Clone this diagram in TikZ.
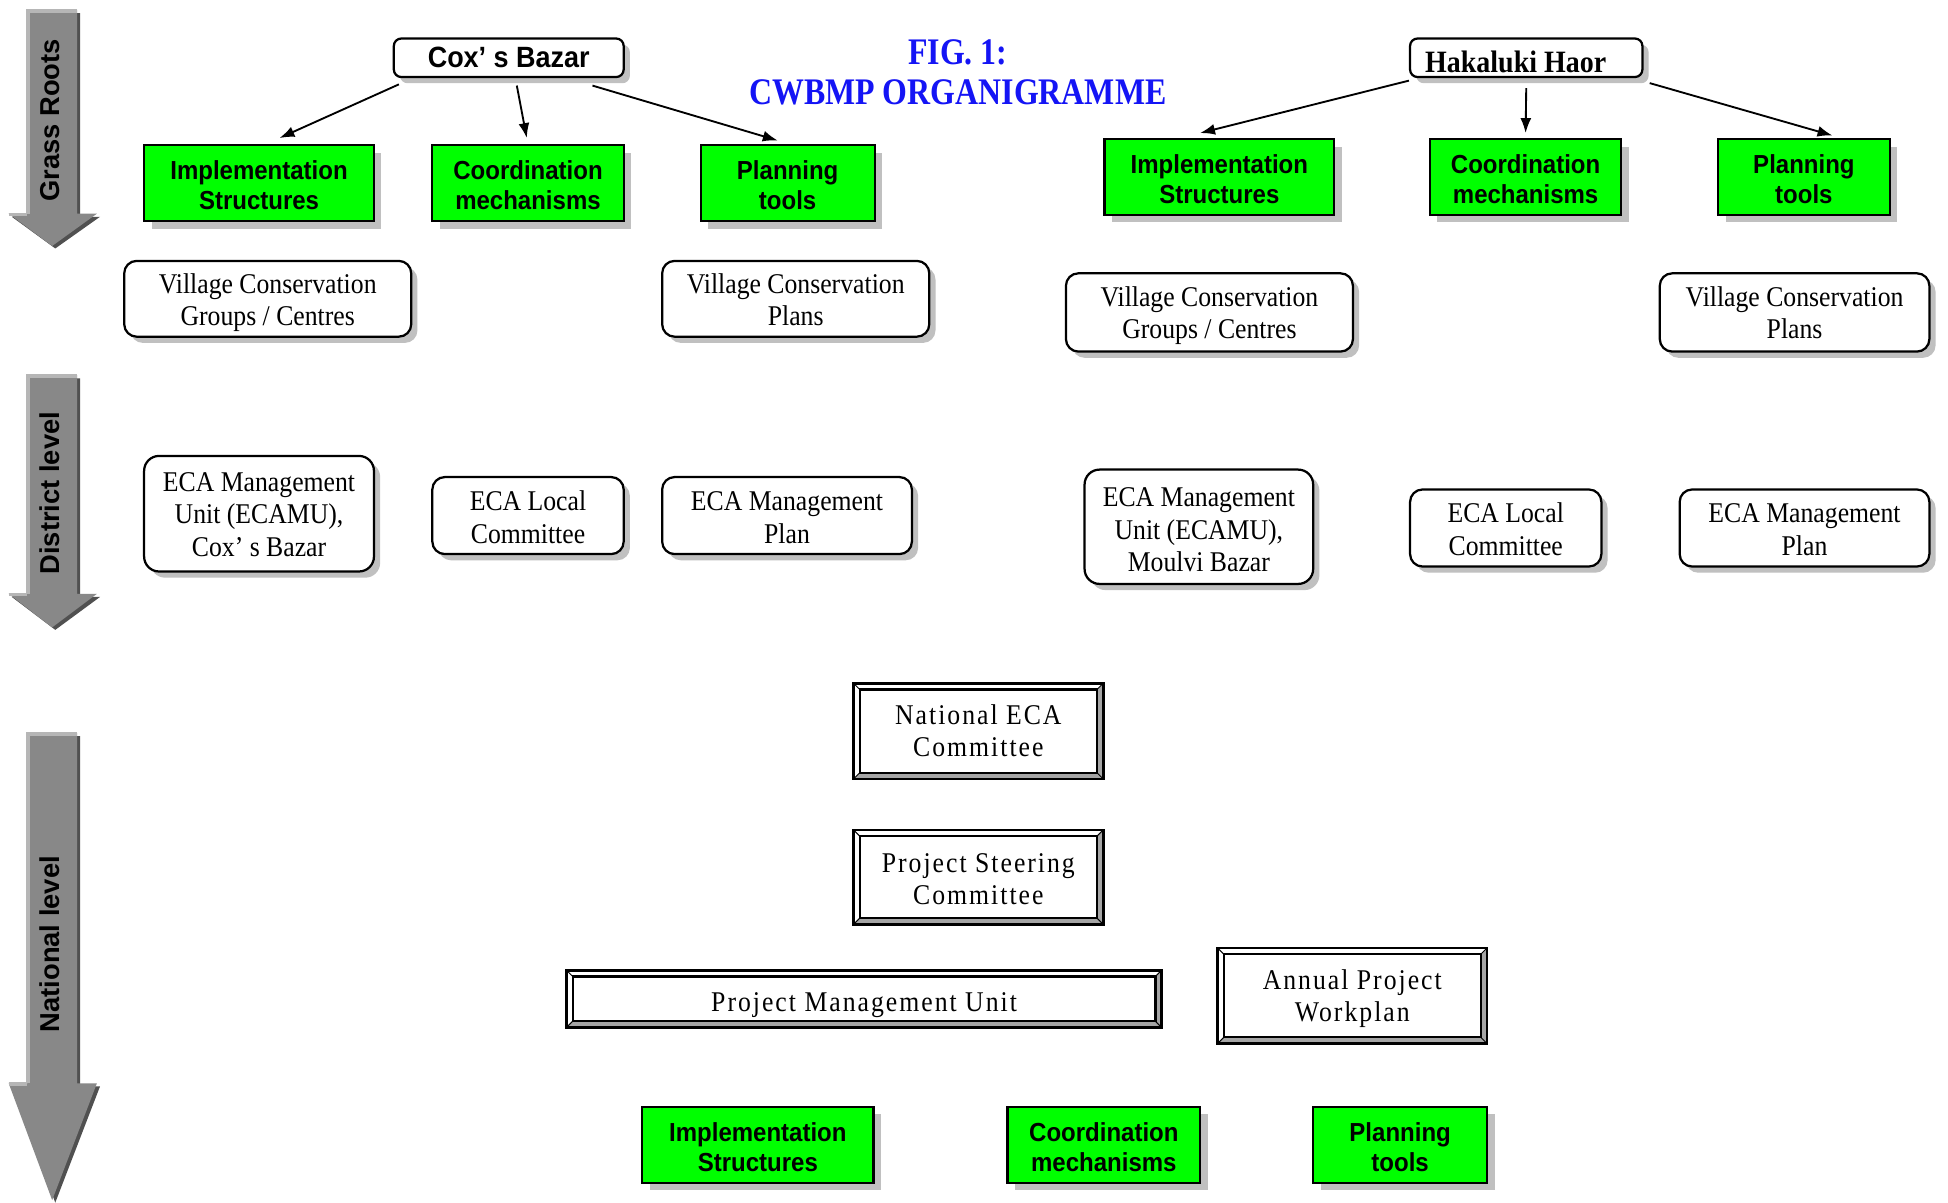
\documentclass[tikz,border=0pt]{standalone}
\usepackage{fontspec}
\setmainfont{Liberation Serif}
\setsansfont{Liberation Sans}
\newfontfamily\serifc[FakeStretch=0.9]{Liberation Serif}
\newfontfamily\serifls[FakeStretch=0.9,LetterSpace=7]{Liberation Serif}
\newfontfamily\sansc[FakeStretch=0.92]{Liberation Sans}
\newfontfamily\sansn{Liberation Sans}
\newfontfamily\titlef[FakeStretch=0.85]{Liberation Serif}
\usetikzlibrary{arrows.meta,shadows,calc}
\definecolor{vgreen}{RGB}{0,255,0}
\definecolor{shadowgray}{RGB}{192,192,192}
\definecolor{bevelgray}{RGB}{165,165,165}
\definecolor{titleblue}{RGB}{20,20,245}
\definecolor{arrowmid}{RGB}{136,136,136}
\definecolor{arrowdark}{RGB}{80,80,80}
\definecolor{arrowlight}{RGB}{182,182,182}
\newcommand{\bvw}{2.5pt}
% text block lowered inside its node, box size unchanged
\newcommand{\tx}[2][2.2pt]{\raisebox{-#1}[\height][\depth]{\begin{tabular}{@{}c@{}}#2\end{tabular}}}
\newcommand{\lvlarrow}[3]{%
  \fill[arrowdark] (24.5,#1+2.5) -- (64.5,#1+2.5) -- (64.5,#2+2.5) -- (80.5,#2+2.5) -- (44.5,#3+2) -- (9.5,#2+2.5) -- (24.5,#2+2.5) -- cycle;
  \fill[arrowmid] (22,#1) -- (62,#1) -- (62,#2) -- (78,#2) -- (42,#3) -- (7,#2) -- (22,#2) -- cycle;
  \draw[arrowlight, line width=1.4pt] (22.7,#2) -- (22.7,#1+0.7) -- (62,#1+0.7);
  \draw[arrowlight, line width=1.4pt] (7,#2+0.7) -- (22,#2+0.7);
}
\tikzset{
  gbox/.style={draw=black, line width=0.9pt, fill=vgreen, inner sep=0pt,
    font=\sansc\bfseries\fontsize{10.5}{12}\selectfont,
    drop shadow={shadow xshift=3pt, shadow yshift=-3pt, fill=shadowgray, opacity=1}},
  wbox/.style={draw=black, line width=0.9pt, fill=white, rounded corners=5pt, inner sep=0pt,
    font=\serifc\fontsize{11.5}{13}\selectfont,
    drop shadow={shadow xshift=2.5pt, shadow yshift=-2.5pt, fill=shadowgray, opacity=1}},
  headbox/.style={draw=black, line width=0.9pt, fill=white, rounded corners=3pt, inner sep=0pt,
    drop shadow={shadow xshift=2.5pt, shadow yshift=-2.5pt, fill=shadowgray, opacity=1}},
  bevel/.style={draw=black, line width=1.1pt, fill=bevelgray, inner sep=0pt,
    font=\serifls\fontsize{11.5}{13}\selectfont,
    path picture={
      \fill[white] (path picture bounding box.north west) -- (path picture bounding box.north east)
        -- ([xshift=-\bvw,yshift=-\bvw]path picture bounding box.north east)
        -- ([xshift=\bvw,yshift=-\bvw]path picture bounding box.north west)
        -- ([xshift=\bvw,yshift=\bvw]path picture bounding box.south west)
        -- (path picture bounding box.south west) -- cycle;
      \draw[line width=0.4pt] (path picture bounding box.north west) -- ([xshift=\bvw,yshift=-\bvw]path picture bounding box.north west);
      \draw[line width=0.4pt] (path picture bounding box.north east) -- ([xshift=-\bvw,yshift=-\bvw]path picture bounding box.north east);
      \draw[line width=0.4pt] (path picture bounding box.south west) -- ([xshift=\bvw,yshift=\bvw]path picture bounding box.south west);
      \draw[line width=0.4pt] (path picture bounding box.south east) -- ([xshift=-\bvw,yshift=\bvw]path picture bounding box.south east);
      \draw[line width=0.9pt, fill=white] ([xshift=\bvw,yshift=-\bvw]path picture bounding box.north west)
        rectangle ([xshift=-\bvw,yshift=\bvw]path picture bounding box.south east);
    }},
  arr/.style={-{Latex[length=6pt,width=4.4pt]}, line width=0.75pt},
  lvltext/.style={font=\sansn\bfseries\fontsize{11}{13}\selectfont, rotate=90, inner sep=0pt}
}
\begin{document}
\begin{tikzpicture}[x=0.5pt, y=-0.5pt]
\useasboundingbox (0,0) rectangle (1568,968);
\fill[white] (0,0) rectangle (1568,968);

% level arrows
\lvlarrow{8}{172}{198}
\lvlarrow{302}{478}{505}
\lvlarrow{590}{872}{966}
\node[lvltext] (lvlg) at (40,97) {Grass Roots};
\node[lvltext] (lvld) at (40,397) {District level};
\node[lvltext] (lvln) at (40,760) {National level};

% title
\node[font=\titlef\bfseries\fontsize{15.1}{16}\selectfont, text=titleblue, align=center, inner sep=0pt] (title) at (771,58) {FIG. 1:\\CWBMP ORGANIGRAMME};

% heads
\node[headbox, minimum width=92.5pt, minimum height=15.5pt, font=\sansc\bfseries\fontsize{11.8}{13}\selectfont] (cox) at (409.5,46.5) {Cox’ s Bazar};
\node[headbox, minimum width=93.5pt, minimum height=15.5pt, font=\serifc\bfseries\fontsize{12.5}{14}\selectfont] (hak) at (1228.5,46.5) {\raisebox{-1.6pt}[\height][\depth]{Hakaluki Haor}\kern8.5pt\rule{0pt}{0pt}};

% green row (left)
\node[gbox, minimum width=92.5pt, minimum height=30.5pt] (g1) at (208.5,147.5) {\tx{Implementation\\Structures}};
\node[gbox, minimum width=77pt, minimum height=30.5pt] (g2) at (425,147.5) {\tx{Coordination\\mechanisms}};
\node[gbox, minimum width=70pt, minimum height=30.5pt] (g3) at (634,147.5) {\tx{Planning\\tools}};
% green row (right)
\node[gbox, minimum width=92.5pt, minimum height=30.5pt] (g4) at (981.5,142.5) {\tx{Implementation\\Structures}};
\node[gbox, minimum width=77pt, minimum height=30.5pt] (g5) at (1228,142.5) {\tx{Coordination\\mechanisms}};
\node[gbox, minimum width=69pt, minimum height=30.5pt] (g6) at (1452,142.5) {\tx{Planning\\tools}};

% connectors
\draw[arr] ($(cox.south west)+(5,5)$) -- ($(g1.north)+(16.5,-5)$);
\draw[arr] ($(cox.south)+(6.5,6)$) -- ($(g2.north)+(-1,-5)$);
\draw[arr] ($(cox.south east)+(-26,6)$) -- ($(g3.north)+(-8,-3)$);
\draw[arr] ($(hak.south west)+(0,2)$) -- ($(g4.north)+(-15.5,-4)$);
\draw[arr] ($(hak.south)+(0,8)$) -- ($(g5.north)+(0,-4)$);
\draw[arr] ($(hak.south east)+(5,4)$) -- ($(g6.north)+(23,-2)$);

% white row
\node[wbox, minimum width=115.5pt, minimum height=30.5pt] (w1) at (215.5,240.5) {\tx[1.8pt]{Village Conservation\\Groups / Centres}};
\node[wbox, minimum width=107.5pt, minimum height=30.5pt] (w2) at (640.5,240.5) {\tx[1.8pt]{Village Conservation\\Plans}};
\node[wbox, minimum width=115.5pt, minimum height=31.5pt] (w3) at (973.5,251.5) {\tx[1.5pt]{Village Conservation\\Groups / Centres}};
\node[wbox, minimum width=108.5pt, minimum height=31.5pt] (w4) at (1444.5,251.5) {\tx[1.5pt]{Village Conservation\\Plans}};

% district row
\node[wbox, rounded corners=6pt, minimum width=92.5pt, minimum height=46.5pt] (d1) at (208.5,413.5) {\tx[1.5pt]{ECA Management\\Unit (ECAMU),\\Cox’ s Bazar}};
\node[wbox, minimum width=77pt, minimum height=31pt] (d2) at (425,415) {\tx[2pt]{ECA Local\\Committee}};
\node[wbox, minimum width=100.5pt, minimum height=31pt] (d3) at (633.5,415) {\tx[2pt]{ECA Management\\Plan}};
\node[wbox, rounded corners=6pt, minimum width=92pt, minimum height=46pt] (d4) at (965,424) {\tx[2.4pt]{ECA Management\\Unit (ECAMU),\\Moulvi Bazar}};
\node[wbox, minimum width=77pt, minimum height=31pt] (d5) at (1212,425) {\tx[1.8pt]{ECA Local\\Committee}};
\node[wbox, minimum width=100.5pt, minimum height=31pt] (d6) at (1452.5,425) {\tx[1.8pt]{ECA Management\\Plan}};

% national row
\node[bevel, minimum width=100.5pt, minimum height=38.5pt] (n1) at (787.5,588.5) {\tx[1.2pt]{National ECA\\Committee}};
\node[bevel, minimum width=100.5pt, minimum height=38pt] (n2) at (787.5,706) {\tx[1.9pt]{Project Steering\\Committee}};
\node[bevel, minimum width=239.5pt, minimum height=23pt] (n3) at (695.5,804) {\tx[2.3pt]{Project Management Unit}};
\node[bevel, minimum width=108.5pt, minimum height=38.5pt] (n4) at (1088.5,801.5) {\tx[1.3pt]{Annual Project\\Workplan}};

% bottom green row
\node[gbox, minimum width=93pt, minimum height=30.5pt] (g7) at (610,921.5) {\tx[2.4pt]{Implementation\\Structures}};
\node[gbox, minimum width=77.5pt, minimum height=30.5pt] (g8) at (888.5,921.5) {\tx[2.4pt]{Coordination\\mechanisms}};
\node[gbox, minimum width=70pt, minimum height=30.5pt] (g9) at (1127,921.5) {\tx[2.4pt]{Planning\\tools}};
\end{tikzpicture}
\end{document}
